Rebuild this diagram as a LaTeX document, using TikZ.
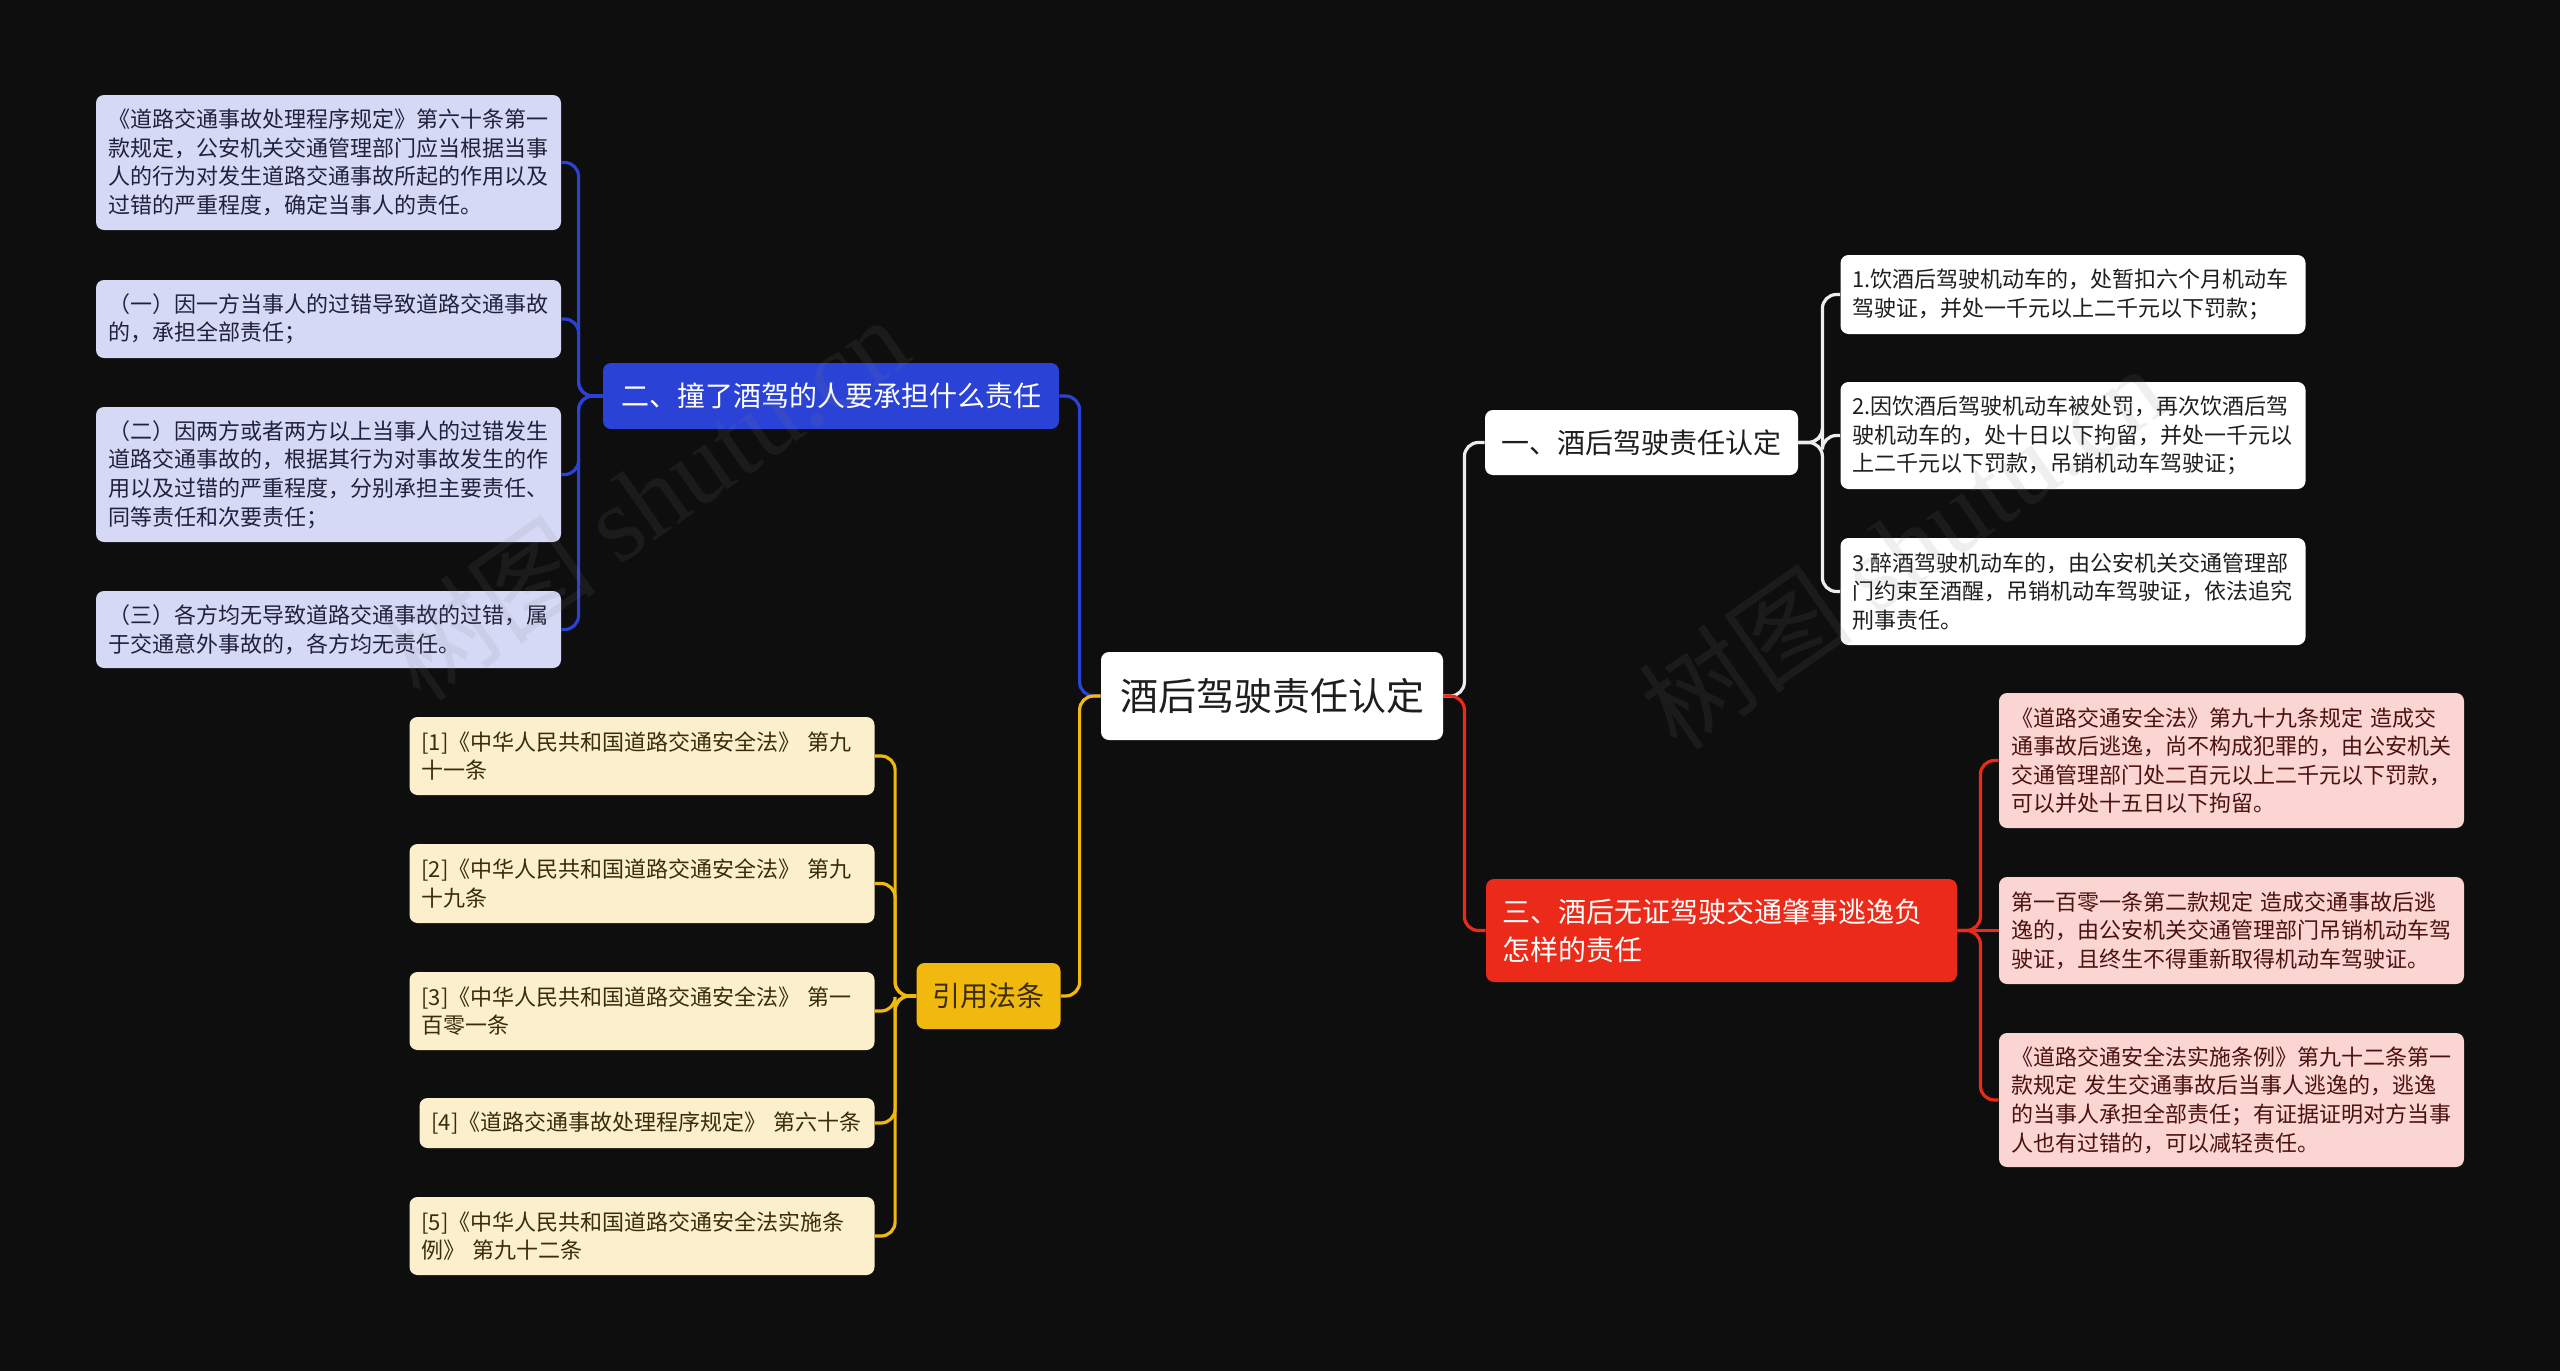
\documentclass[tikz,border=0pt]{standalone}
\usepackage{fontspec}
\setmainfont{Noto Sans CJK SC}
\newfontfamily\wmserif{Liberation Serif}
\usetikzlibrary{positioning}
\definecolor{bgblack}{HTML}{0E0E0E}
\definecolor{brblue}{HTML}{2B42D6}
\definecolor{lfblue}{HTML}{D6D9F6}
\definecolor{bryellow}{HTML}{F1B80D}
\definecolor{lfyellow}{HTML}{FCEFCB}
\definecolor{brred}{HTML}{EC2A19}
\definecolor{lfred}{HTML}{FBD5D1}
\definecolor{linewhite}{HTML}{EDEDED}
\definecolor{txdark}{HTML}{1E1E1E}
\definecolor{txnavy}{HTML}{20223A}
\definecolor{txbrown}{HTML}{3A2C0C}
\definecolor{txred}{HTML}{4A1212}

\begin{document}
\begin{tikzpicture}[x=0.5pt,y=-0.5pt,
  box/.style={rounded corners=4pt,inner ysep=0pt},
  leaf/.style={box,inner xsep=6pt,text width=220.5pt,align=left,font=\fontsize{11}{14.3}\selectfont},
  bleaf/.style={leaf,fill=lfblue,text=txnavy},
  yleaf/.style={leaf,fill=lfyellow,text=txbrown},
  wleaf/.style={leaf,fill=white,text=txdark},
  rleaf/.style={leaf,fill=lfred,text=txred},
  topic/.style={box,inner xsep=8pt,font=\fontsize{14}{19}\selectfont},
  link/.style={line width=1.6pt,rounded corners=7pt},
  wmark/.style={rotate=35,text=gray,opacity=0.12,font=\fontsize{54}{54}\selectfont}]
  \useasboundingbox (0,0) rectangle (2560,1371);
  \fill[bgblack] (0,0) rectangle (2560,1371);

  % centre
  \node[box,fill=white,text=txdark,minimum width=171pt,minimum height=44pt,
    font=\fontsize{19}{23}\selectfont] (root) at (1272,696) {酒后驾驶责任认定};

  % main topics
  \node[topic,fill=brblue,text=white,minimum width=228pt,minimum height=33pt] (blue) at (831,396) {二、撞了酒驾的人要承担什么责任};
  \node[topic,fill=bryellow,text=txbrown,minimum width=71.5pt,minimum height=33pt] (yel) at (988.5,996) {引用法条};
  \node[topic,fill=white,text=txdark,minimum width=156.5pt,minimum height=32.5pt] (wht) at (1641.5,442.5) {一、酒后驾驶责任认定};
  \node[topic,fill=brred,text=white,text width=219.5pt,align=left,minimum height=51.5pt] (red) at (1721.5,930.5)
    {三、酒后无证驾驶交通肇事逃逸负\\怎样的责任};

  % blue leaves
  \node[bleaf,minimum height=67.5pt] (b1) at (328.5,162.5)
    {《道路交通事故处理程序规定》第六十条第一\\款规定，公安机关交通管理部门应当根据当事\\人的行为对发生道路交通事故所起的作用以及\\过错的严重程度，确定当事人的责任。};
  \node[bleaf,minimum height=39pt] (b2) at (328.5,319)
    {（一）因一方当事人的过错导致道路交通事故\\的，承担全部责任；};
  \node[bleaf,minimum height=67.5pt] (b3) at (328.5,474.5)
    {（二）因两方或者两方以上当事人的过错发生\\道路交通事故的，根据其行为对事故发生的作\\用以及过错的严重程度，分别承担主要责任、\\同等责任和次要责任；};
  \node[bleaf,minimum height=38.5pt] (b4) at (328.5,629.5)
    {（三）各方均无导致道路交通事故的过错，属\\于交通意外事故的，各方均无责任。};

  % yellow leaves
  \node[yleaf,minimum height=39pt] (y1) at (642,756) {[1]《中华人民共和国道路交通安全法》 第九\\十一条};
  \node[yleaf,minimum height=39.5pt] (y2) at (642,883.5) {[2]《中华人民共和国道路交通安全法》 第九\\十九条};
  \node[yleaf,minimum height=39pt] (y3) at (642,1011) {[3]《中华人民共和国道路交通安全法》 第一\\百零一条};
  \node[yleaf,text width=215.5pt,minimum height=25pt] (y4) at (647,1123) {[4]《道路交通事故处理程序规定》 第六十条};
  \node[yleaf,minimum height=39pt] (y5) at (642,1236) {[5]《中华人民共和国道路交通安全法实施条\\例》 第九十二条};

  % white leaves
  \node[wleaf,minimum height=39.5pt] (w1) at (2073,294.5)
    {1.饮酒后驾驶机动车的，处暂扣六个月机动车\\驾驶证，并处一千元以上二千元以下罚款；};
  \node[wleaf,minimum height=53.5pt] (w2) at (2073,435.5)
    {2.因饮酒后驾驶机动车被处罚，再次饮酒后驾\\驶机动车的，处十日以下拘留，并处一千元以\\上二千元以下罚款，吊销机动车驾驶证；};
  \node[wleaf,minimum height=53.5pt] (w3) at (2073,591.5)
    {3.醉酒驾驶机动车的，由公安机关交通管理部\\门约束至酒醒，吊销机动车驾驶证，依法追究\\刑事责任。};

  % red leaves
  \node[rleaf,minimum height=67.5pt] (r1) at (2231.5,760.5)
    {《道路交通安全法》第九十九条规定 造成交\\通事故后逃逸，尚不构成犯罪的，由公安机关\\交通管理部门处二百元以上二千元以下罚款，\\可以并处十五日以下拘留。};
  \node[rleaf,minimum height=53.5pt] (r2) at (2231.5,930.5)
    {第一百零一条第二款规定 造成交通事故后逃\\逸的，由公安机关交通管理部门吊销机动车驾\\驶证，且终生不得重新取得机动车驾驶证。};
  \node[rleaf,minimum height=67pt] (r3) at (2231.5,1100)
    {《道路交通安全法实施条例》第九十二条第一\\款规定 发生交通事故后当事人逃逸的，逃逸\\的当事人承担全部责任；有证据证明对方当事\\人也有过错的，可以减轻责任。};

  % connectors
  \draw[link,brblue] (root.west) -- ++(-21,0) |- (blue.east);
  \draw[link,bryellow] (root.west) -- ++(-21,0) |- (yel.east);
  \draw[link,linewhite] (root.east) -- ++(21,0) |- (wht.west);
  \draw[link,brred] (root.east) -- ++(21,0) |- (red.west);
  \foreach \n in {b1,b2,b3,b4}
    \draw[link,brblue] (blue.west) -- ++(-24,0) |- (\n.east);
  \foreach \n in {y1,y2,y3,y4,y5}
    \draw[link,bryellow] (yel.west) -- ++(-21,0) |- (\n.east);
  \foreach \n in {w1,w2,w3}
    \draw[link,linewhite] (wht.east) -- ++(24,0) |- (\n.west);
  \foreach \n in {r1,r3}
    \draw[link,brred] (red.east) -- ++(23,0) |- (\n.west);
  \draw[link,brred] (red.east) -- (r2.west);

  % watermarks
  \node[wmark] (wm1) at (645,498) {树图 {\wmserif shutu.cn}};
  \node[wmark] (wm2) at (1902,547) {树图 {\wmserif shutu.cn}};
\end{tikzpicture}
\end{document}
